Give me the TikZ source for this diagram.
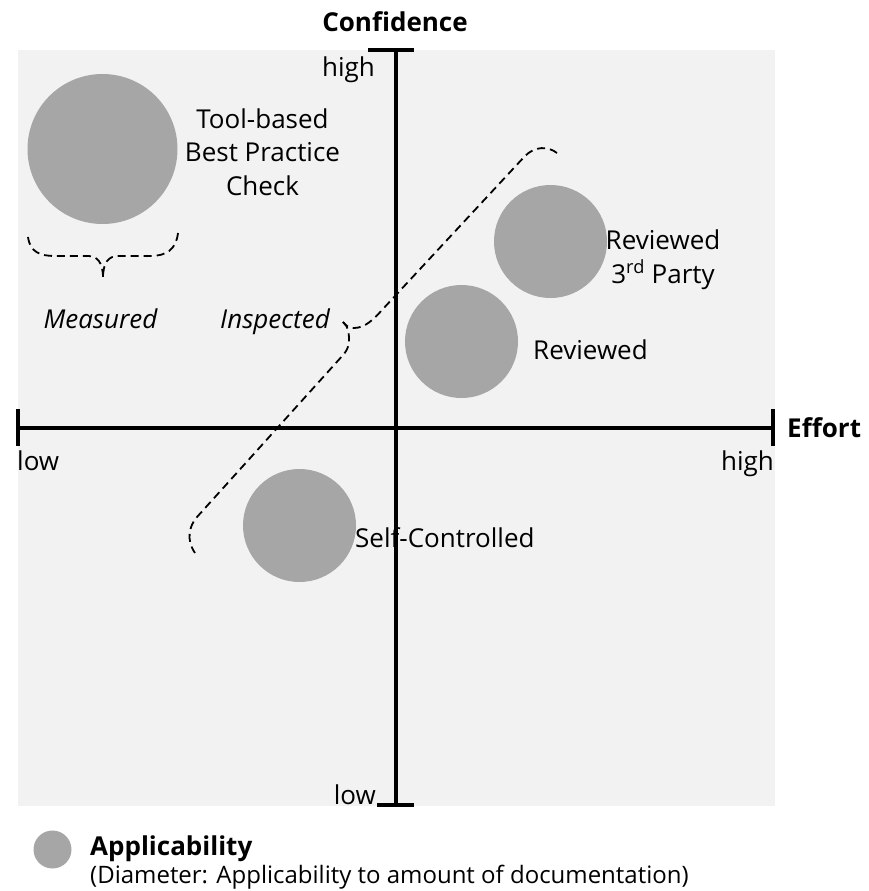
\documentclass[tikz,border=0pt]{standalone}
\usepackage{fontspec}
\setmainfont{Open Sans}
\definecolor{panel}{HTML}{F2F2F2}
\definecolor{bubblegrey}{HTML}{A6A6A6}
\begin{document}
\begin{tikzpicture}[x=1pt,y=-1pt,
  bubble/.style={circle,fill=bubblegrey,inner sep=0pt,minimum size=#1},
  axisline/.style={line width=4pt},
  bracket/.style={dash pattern=on 8pt off 5pt, line width=1.8pt},
  lbl/.style={inner sep=0pt, font=\fontsize{26}{33.5}\selectfont},
  ttl/.style={inner sep=0pt, font=\fontsize{26}{30}\selectfont\bfseries},
  note/.style={inner sep=0pt, font=\fontsize{24}{28}\selectfont}]
\useasboundingbox (0,0) rectangle (869,891);

% panel behind the chart
\fill[panel] (18,50) rectangle (775,806);

% applicability bubbles
\node[bubble=150pt] (tool) at (102.5,149) {};
\node[bubble=113pt] (rev3) at (550.5,241.5) {};
\node[bubble=113pt] (rev)  at (461.5,341.5) {};
\node[bubble=113pt] (self) at (299.5,525.5) {};

% axes with end ticks
\coordinate (xl) at (18,428);
\coordinate (xr) at (773,428);
\coordinate (yt) at (396,50);
\coordinate (yb) at (396,805);
\draw[axisline] (xl) -- (xr);
\draw[axisline] (yt) -- (yb);
\draw[axisline] (18,409) -- (18,446);
\draw[axisline] (773,409) -- (773,446);
\draw[axisline] (368,50) -- (414,50);
\draw[axisline] (377,805) -- (414,805);

% axis titles and ends
\node[ttl, anchor=base] (conf) at (395,32) {Confidence};
\node[ttl, anchor=base west] (eff) at (787,437) {Effort};
\node[lbl, anchor=base east] (yhigh) at (375,76) {high};
\node[lbl, anchor=base west] (xlow) at (17,470) {low};
\node[lbl, anchor=base east] (xhigh) at (774,470) {high};
\node[lbl, anchor=base east] (ylow) at (376,804) {low};

% bubble labels (base anchor sits on the last line)
\node[lbl, align=center, anchor=base] (toollbl) at (262.5,195) {Tool-based\\Best Practice\\Check};
\node[lbl, align=center, anchor=base] (rev3lbl) at (663,283) {Reviewed\\3\textsuperscript{rd} Party};
\node[lbl, anchor=base west] (revlbl) at (533,359) {Reviewed};
\node[lbl, anchor=base west] (selflbl) at (355,547) {Self-Controlled};

% category labels
\node[lbl, anchor=base] (meas) at (100.5,328) {\itshape Measured};
\node[lbl, anchor=base] (insp) at (275,328) {\itshape Inspected};

% brace under the measured group
\draw[bracket] (28,237) .. controls (30,252) and (40,256) .. (55,256) -- (88,256)
  .. controls (97,256) and (103,262) .. (103,278);
\draw[bracket] (178,233) .. controls (176,250) and (166,256) .. (150,256) -- (118,256)
  .. controls (109,256) and (103,262) .. (103,278);

% boundary of the inspected group
\coordinate (tip) at (343,322);
\draw[bracket] (557,153) .. controls (548,146) and (535,146) .. (525,156) -- (382,310)
  .. controls (374,319) and (365,328) .. (354,328) .. controls (349,328) and (346,326) .. (tip);
\draw[bracket] (tip) .. controls (348,326) and (349,332) .. (349,340)
  .. controls (349,346) and (347,350) .. (344,354) -- (197,517)
  .. controls (189,526) and (186,540) .. (195,553);

% legend
\node[bubble=38pt] (legdot) at (52.5,849.5) {};
\node[ttl, anchor=base west] (legtitle) at (90,855) {Applicability};
\node[note, anchor=base west] (legnote) at (90,883) {(Diameter: Applicability to amount of documentation)};
\end{tikzpicture}
\end{document}
